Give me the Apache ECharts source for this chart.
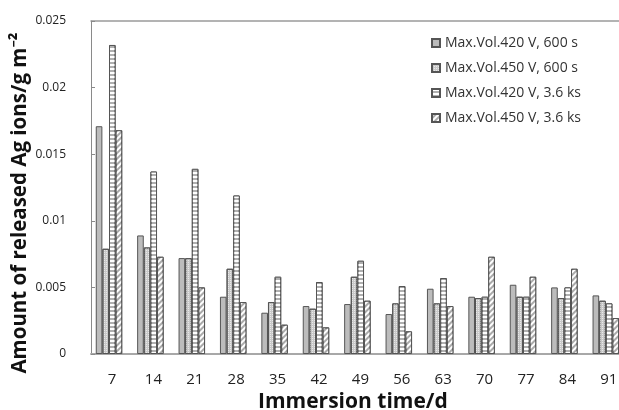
<!DOCTYPE html>
<html>
<head>
<meta charset="utf-8">
<script src="https://cdn.jsdelivr.net/npm/echarts@6/dist/echarts.min.js"></script>
<style>html,body{margin:0;padding:0;background:#fff}#c{width:619px;height:410px}</style>
</head>
<body>
<div id="c"></div>
<script>
var days = ['7','14','21','28','35','42','49','56','63','70','77','84','91'];
var seriesNames = ['Max.Vol.420 V, 600 s','Max.Vol.450 V, 600 s','Max.Vol.420 V, 3.6 ks','Max.Vol.450 V, 3.6 ks'];
var v420_600 = [0.0171,0.0089,0.0072,0.0043,0.0031,0.0036,0.00375,0.0030,0.0049,0.0043,0.0052,0.0050,0.0044];
var v450_600 = [0.0079,0.0080,0.0072,0.0064,0.0039,0.0034,0.0058,0.0038,0.0038,0.0042,0.0043,0.0042,0.0040];
var v420_36k = [0.0232,0.0137,0.0139,0.0119,0.0058,0.0054,0.0070,0.0051,0.0057,0.0043,0.0043,0.0050,0.0038];
var v450_36k = [0.0168,0.0073,0.0050,0.0039,0.0022,0.0020,0.0040,0.0017,0.0036,0.0073,0.0058,0.0064,0.0027];
var yTicks = ['0','0.005','0.01','0.015','0.02','0.025'];

var FONT = '"Open Sans", "Noto Sans", sans-serif';
var chart = echarts.init(document.getElementById('c'));

var styles = [
  {color:'#bcbcbc', borderColor:'#555', borderWidth:1},
  {color:'#c8c8c8', borderColor:'#555', borderWidth:1,
   decal:{symbol:'rect', symbolSize:1, color:'rgba(255,255,255,0.6)', dashArrayX:[1,1], dashArrayY:[1,1]}},
  {color:'#b0b0b0', borderColor:'#555', borderWidth:1,
   decal:{symbol:'rect', symbolSize:1, color:'#ffffff', dashArrayX:[1,0], dashArrayY:[2,2]}},
  {color:'#aaaaaa', borderColor:'#555', borderWidth:1,
   decal:{symbol:'rect', symbolSize:1, color:'#ffffff', dashArrayX:[1,0], dashArrayY:[2,2], rotation:-Math.PI/4}}
];
var vals = [v420_600, v450_600, v420_36k, v450_36k];

var series = vals.map(function(v,i){
  return {
    name: seriesNames[i], type:'bar', data:v,
    xAxisIndex:0, yAxisIndex:0,
    barGap:'0%', barCategoryGap:'36%',
    itemStyle: styles[i],
    emphasis:{disabled:true}
  };
});

chart.setOption({
  animation:false,
  legend:{
    orient:'vertical', left:431, top:36, padding:0,
    itemWidth:8, itemHeight:8, itemGap:11,
    icon:'rect',
    textStyle:{fontFamily:FONT, fontSize:14, color:'#333'},
    data: seriesNames
  },
  grid:[
    {left:88.3, top:21, width:538.2, height:333, containLabel:false, outerBoundsMode:'none'},
    {left:91, top:21, width:540, height:333, containLabel:false, outerBoundsMode:'none'}
  ],
  xAxis:[
    {type:'category', gridIndex:0, data:days, axisLine:{show:false}, axisTick:{show:false},
     axisLabel:{fontFamily:FONT, fontSize:15, color:'#222', margin:18, padding:[0,0,0,6]},
     name:'Immersion time/d', nameLocation:'middle', nameGap:32,
     nameTextStyle:{fontFamily:FONT, fontSize:21, fontWeight:'bold', color:'#111', padding:[0,9,0,0]}},
    {type:'category', gridIndex:1, data:days, position:'bottom', axisLine:{lineStyle:{color:'#a8a8a8', width:2}}, axisTick:{show:false}, axisLabel:{show:false}},
    {type:'category', gridIndex:1, data:days, position:'top', axisLine:{lineStyle:{color:'#9a9a9a', width:1.5}}, axisTick:{show:false}, axisLabel:{show:false}}
  ],
  yAxis:[
    {type:'value', gridIndex:0, min:0, max:0.025, interval:0.005, show:false, splitLine:{show:false}},
    {type:'value', gridIndex:1, min:0, max:0.025, interval:0.005,
     axisLine:{show:true, lineStyle:{color:'#8a8a8a', width:1}},
     axisTick:{show:true, inside:true, length:4, lineStyle:{color:'#8a8a8a'}},
     splitLine:{show:false},
     axisLabel:{fontFamily:FONT, fontSize:12, color:'#222', margin:25,
       formatter:function(v){ var i=Math.round(v/0.005); return yTicks[i]; }}}
  ],
  graphic:[
    {type:'text', x:20, y:203, rotation:Math.PI/2,
     style:{text:'Amount of released Ag ions/g m\u207B\u00B2', fontFamily:FONT, fontSize:20.5, fontWeight:'bold', fill:'#111',
       textAlign:'center', textVerticalAlign:'middle'}}
  ],
  series: series
});
</script>
</body>
</html>
